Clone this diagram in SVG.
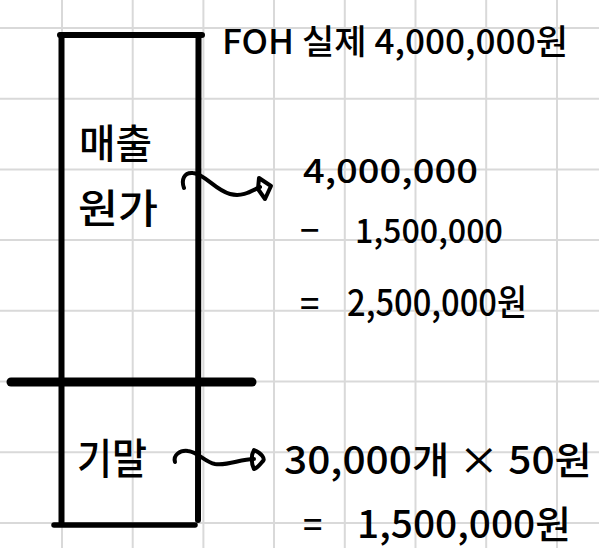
<svg xmlns="http://www.w3.org/2000/svg" width="599" height="548" viewBox="0 0 599 548">
<style>
.grid{stroke:#d9d9d9;stroke-width:2;fill:none}
.ink{stroke:#000;fill:none;stroke-linecap:round;stroke-linejoin:round}
.t{font-family:"Noto Sans CJK KR","Noto Sans",sans-serif;font-weight:500;fill:#000}
.conn{stroke:#000;stroke-width:4;fill:none;stroke-linecap:round;stroke-linejoin:round}
</style>
<rect width="599" height="548" fill="#fff"/>
<g id="grid" class="grid">
<line x1="62" y1="0" x2="62" y2="548"/>
<line x1="132.7" y1="0" x2="132.7" y2="548"/>
<line x1="203.4" y1="0" x2="203.4" y2="548"/>
<line x1="274" y1="0" x2="274" y2="548"/>
<line x1="344.8" y1="0" x2="344.8" y2="548"/>
<line x1="415.5" y1="0" x2="415.5" y2="548"/>
<line x1="486.2" y1="0" x2="486.2" y2="548"/>
<line x1="557" y1="0" x2="557" y2="548"/>
<line x1="0" y1="28" x2="599" y2="28"/>
<line x1="0" y1="98.7" x2="599" y2="98.7"/>
<line x1="0" y1="169.4" x2="599" y2="169.4"/>
<line x1="0" y1="240" x2="599" y2="240"/>
<line x1="0" y1="310.8" x2="599" y2="310.8"/>
<line x1="0" y1="381.5" x2="599" y2="381.5"/>
<line x1="0" y1="452.2" x2="599" y2="452.2"/>
<line x1="0" y1="523" x2="599" y2="523"/>
</g>
<g id="box" class="ink">
<line x1="60" y1="35" x2="202" y2="35" stroke-width="6"/>
<line x1="61.5" y1="35" x2="61.5" y2="524" stroke-width="6"/>
<line x1="198.5" y1="35" x2="198" y2="520" stroke-width="6"/>
<line x1="54" y1="525" x2="195" y2="525" stroke-width="5.5"/>
<line x1="11" y1="382" x2="252" y2="382" stroke-width="9"/>
</g>
<g id="title"><text class="t" x="222" y="54" font-size="34" textLength="346" lengthAdjust="spacingAndGlyphs">FOH 실제 4,000,000원</text></g>
<g id="cogs"><text class="t" x="79" y="158" font-size="40" textLength="73" lengthAdjust="spacingAndGlyphs">매출</text><text class="t" x="78" y="223" font-size="40" textLength="80" lengthAdjust="spacingAndGlyphs">원가</text></g>
<g id="ending"><text class="t" x="77" y="474" font-size="42" textLength="70" lengthAdjust="spacingAndGlyphs">기말</text></g>
<g id="calc1">
<text class="t" x="303" y="183" font-size="34" textLength="175" lengthAdjust="spacingAndGlyphs">4,000,000</text>
<text class="t" x="300" y="243" font-size="34">−</text>
<text class="t" x="355" y="243" font-size="34" textLength="148" lengthAdjust="spacingAndGlyphs">1,500,000</text>
<text class="t" x="300" y="316" font-size="34">=</text>
<text class="t" x="347" y="316" font-size="36" textLength="180" lengthAdjust="spacingAndGlyphs">2,500,000원</text>
</g>
<g id="calc2">
<text class="t" x="284" y="474" font-size="38" textLength="308" lengthAdjust="spacingAndGlyphs">30,000개 × 50원</text>
<text class="t" x="303" y="537" font-size="34">=</text>
<text class="t" x="357" y="538" font-size="38" textLength="214" lengthAdjust="spacingAndGlyphs">1,500,000원</text>
</g>
<g id="connectors">
<path class="conn" d="M184,188 C181,180 184,172 193,173 C205,174 215,190 230,194 C242,197 250,192 260,187"/>
<path class="conn" d="M259,178 L271,186 L265,199 L258,189 Z"/>
<path class="conn" d="M175,462 C173,455 180,450 188,451 C198,452 205,462 215,464 C228,466 240,459 254,459"/>
<path class="conn" d="M254,450 C262,453 265,459 263,461 C260,464 258,468 254,469 C251,463 251,455 254,450 Z"/>
</g>
</svg>
